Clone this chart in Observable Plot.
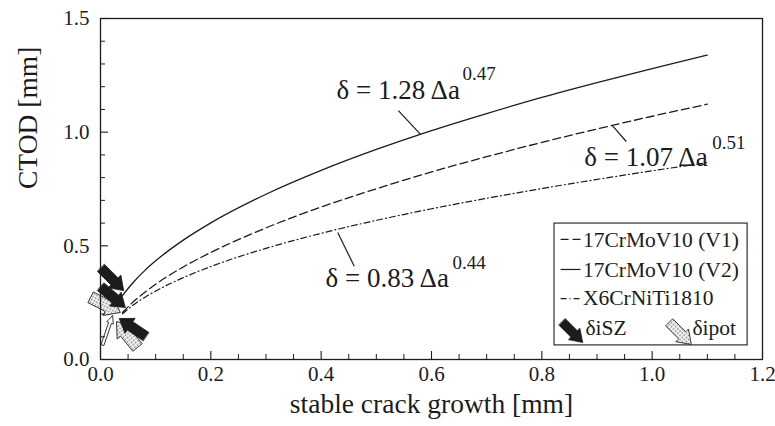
<!DOCTYPE html>
<html><head><meta charset="utf-8">
<script src="https://cdn.jsdelivr.net/npm/d3@7"></script>
<script src="https://cdn.jsdelivr.net/npm/@observablehq/plot@0.6"></script>
<style>body{margin:0;background:#fff} svg, svg text {font-family: "Liberation Serif", serif !important;}</style>
</head><body><div id="chart"></div>
<script>
// ---- data ----
const crackGrowth = [0.04, 0.06, 0.08, 0.1, 0.15, 0.2, 0.3, 0.4, 0.5, 0.6, 0.7, 0.8, 0.9, 1.0, 1.1];
const ctodV1 = [0.207, 0.255, 0.295, 0.331, 0.407, 0.471, 0.579, 0.671, 0.751, 0.825, 0.892, 0.955, 1.014, 1.07, 1.123];
const ctodV2 = [0.282, 0.341, 0.391, 0.434, 0.525, 0.601, 0.727, 0.832, 0.924, 1.007, 1.082, 1.153, 1.218, 1.28, 1.339];
const ctodX6 = [0.201, 0.241, 0.273, 0.301, 0.360, 0.409, 0.489, 0.555, 0.612, 0.663, 0.709, 0.752, 0.792, 0.83, 0.866];
const seriesNames = ["17CrMoV10 (V1)", "17CrMoV10 (V2)", "X6CrNiTi1810"];
const xTickLabels = [0, 0.2, 0.4, 0.6, 0.8, 1.0, 1.2];
const yTickLabels = [0, 0.5, 1.0, 1.5];
const xTitle = "stable crack growth [mm]";
const yTitle = "CTOD [mm]";
// initiation values marked by arrows (tip x, tip y, direction in degrees)
const iszX = [0.042, 0.045, 0.034];
const iszY = [0.303, 0.229, 0.180];
const iszDir = [135, 130, 304];
const ipotX = [0.036, 0.029];
const ipotY = [0.207, 0.167];
const ipotDir = [117, 321];
const thinX = [0.022];
const thinY = [0.194];
const thinDir = [19];
// fit equations
const fitText = ["δ = 1.28 Δa", "δ = 1.07 Δa", "δ = 0.83 Δa"];
const fitExp = ["0.47", "0.51", "0.44"];

// ---- tables ----
const rows = (ys, s) => crackGrowth.map((x, i) => ({x, y: ys[i], s}));
const v1 = rows(ctodV1, seriesNames[0]);
const v2 = rows(ctodV2, seriesNames[1]);
const x6 = rows(ctodX6, seriesNames[2]);
const isz = iszX.map((x, i) => ({x, y: iszY[i], r: iszDir[i]}));
const ipot = ipotX.map((x, i) => ({x, y: ipotY[i], r: ipotDir[i]}));
const thin = thinX.map((x, i) => ({x, y: thinY[i], r: thinDir[i]}));

// annotation layout (data coordinates)
const fitPos = [
  {x: 0.428, y: 1.148, ex: 0.656, ey: 1.231, lx1: 0.540, ly1: 1.095, lx2: 0.580, ly2: 0.990},
  {x: 0.877, y: 0.853, ex: 1.109, ey: 0.928, lx1: 0.928, ly1: 1.029, lx2: 0.953, ly2: 0.959},
  {x: 0.408, y: 0.317, ex: 0.638, ey: 0.400, lx1: 0.430, ly1: 0.559, lx2: 0.460, ly2: 0.410}
];
const fits = fitPos.map((p, i) => ({...p, t: fitText[i], e: fitExp[i]}));

// legend layout (data coordinates)
const legBox = [{x1: 0.823, x2: 1.173, y1: 0.062, y2: 0.598}];
const legRowY = [0.497, 0.365, 0.238];
const legLineY = [0.528, 0.396, 0.268];
const dashes = ["8,4", null, "6,3,1,3"];
const legLines = seriesNames.map((s, i) => ({s, x1: 0.834, x2: 0.870, y: legLineY[i], d: dashes[i]}));
const legTexts = seriesNames.map((s, i) => ({s, x: 0.8745, y: legRowY[i]}));

function blockArrow(shaftW, headW, headL) {
  return {draw(ctx, l) {
    const hs = shaftW / 2, hh = headW / 2;
    ctx.moveTo(-hs, 0);
    ctx.lineTo(-hs, -l + headL);
    ctx.lineTo(-hh, -l + headL);
    ctx.lineTo(0, -l);
    ctx.lineTo(hh, -l + headL);
    ctx.lineTo(hs, -l + headL);
    ctx.lineTo(hs, 0);
    ctx.closePath();
  }};
}

const FONT = "'Liberation Serif', serif";
const ink = "#1c1c1c";
const W = 775, H = 426, mL = 100, mR = 13, mT = 18, mB = 67;
const fw = W - mL - mR, fh = H - mT - mB;
const majorX = xTickLabels, minorX = d3.range(0, 1.2001, 0.05).filter(v => Math.abs(v * 5 - Math.round(v * 5)) > 1e-6);
const majorY = yTickLabels, minorY = d3.range(0, 1.5001, 0.1).filter(v => Math.abs(v * 2 - Math.round(v * 2)) > 1e-6);

const chart = Plot.plot({
  width: W, height: H,
  marginLeft: mL, marginRight: mR, marginTop: mT, marginBottom: mB,
  style: {fontFamily: FONT, color: ink, background: "#fff"},
  x: {domain: [0, 1.2], label: null},
  y: {domain: [0, 1.5], label: null},
  marks: [
    // curves
    Plot.line(v2, {x: "x", y: "y", curve: "monotone-x", stroke: ink, strokeWidth: 1.3}),
    Plot.line(v1, {x: "x", y: "y", curve: "monotone-x", stroke: ink, strokeWidth: 1.3, strokeDasharray: "8,4"}),
    Plot.line(x6, {x: "x", y: "y", curve: "monotone-x", stroke: ink, strokeWidth: 1.2, strokeDasharray: "6,3,1,3"}),
    // arrows
    Plot.vector(thin, {x: "x", y: "y", rotate: "r", length: 31, anchor: "end", shape: blockArrow(3, 7, 8), fill: "#fff", stroke: ink, strokeWidth: 0.8}),
    Plot.vector(ipot, {x: "x", y: "y", rotate: "r", length: 33, anchor: "end", shape: blockArrow(12, 21, 14), fill: "url(#stipple)", stroke: ink, strokeWidth: 0.8}),
    Plot.vector(isz, {x: "x", y: "y", rotate: "r", length: 32, anchor: "end", shape: blockArrow(10, 18, 13), fill: ink, stroke: ink, strokeWidth: 0.8}),
    // fit annotations
    Plot.link(fits, {x1: "lx1", y1: "ly1", x2: "lx2", y2: "ly2", stroke: ink, strokeWidth: 1.2}),
    Plot.text(fits, {x: "x", y: "y", text: "t", textAnchor: "start", lineAnchor: "bottom", fontSize: 27, fontFamily: FONT, fill: ink}),
    Plot.text(fits, {x: "ex", y: "ey", text: "e", textAnchor: "start", lineAnchor: "bottom", fontSize: 19, fontFamily: FONT, fill: ink}),
    // legend
    Plot.rect(legBox, {x1: "x1", x2: "x2", y1: "y1", y2: "y2", fill: "#fff", stroke: ink, strokeWidth: 1.1}),
    ...legLines.map(d => Plot.link([d], {x1: "x1", x2: "x2", y1: "y", y2: "y", stroke: ink, strokeWidth: 1.2, strokeDasharray: d.d})),
    Plot.text(legTexts, {x: "x", y: "y", text: "s", textAnchor: "start", lineAnchor: "bottom", fontSize: 21.5, fontFamily: FONT, fill: ink}),
    Plot.vector([{x: 0.874, y: 0.075}], {x: "x", y: "y", rotate: 135, length: 29, anchor: "end", shape: blockArrow(9, 16, 12), fill: ink, stroke: ink, strokeWidth: 0.8}),
    Plot.vector([{x: 1.071, y: 0.066}], {x: "x", y: "y", rotate: 135, length: 31, anchor: "end", shape: blockArrow(10, 18, 13), fill: "url(#stipple)", stroke: ink, strokeWidth: 0.8}),
    Plot.text([{x: 0.879, y: 0.1056, t: "δiSZ"}, {x: 1.073, y: 0.1056, t: "δipot"}], {x: "x", y: "y", text: "t", textAnchor: "start", lineAnchor: "bottom", fontSize: 21.5, fontFamily: FONT, fill: ink}),
    // frame and inward ticks
    Plot.frame({stroke: ink, strokeWidth: 1.3}),
    Plot.tickX(majorX, {x: d => d, insetTop: fh - 8, stroke: ink, strokeWidth: 1.1}),
    Plot.tickX(minorX, {x: d => d, insetTop: fh - 5, stroke: ink, strokeWidth: 1}),
    Plot.tickY(majorY, {y: d => d, insetRight: fw - 8, stroke: ink, strokeWidth: 1.1}),
    Plot.tickY(minorY, {y: d => d, insetRight: fw - 5, stroke: ink, strokeWidth: 1}),
    // axes labels
    Plot.axisX(majorX, {tickSize: 0, tickPadding: 7, tickFormat: d3.format(".1f"), fontSize: 21, fontFamily: FONT, label: null}),
    Plot.axisY(majorY, {tickSize: 0, tickPadding: 11, tickFormat: d3.format(".1f"), fontSize: 21, fontFamily: FONT, label: null}),
    Plot.text([xTitle], {frameAnchor: "bottom", dy: 53, lineAnchor: "bottom", fontSize: 27.5, fontFamily: FONT, fill: ink}),
    Plot.text([yTitle], {frameAnchor: "left", dx: -64, rotate: -90, lineAnchor: "bottom", fontSize: 27.5, fontFamily: FONT, fill: ink})
  ]
});

const svg = d3.select(chart);
svg.style("font-family", FONT);
const defs = svg.insert("defs", ":first-child");
const pat = defs.append("pattern").attr("id", "stipple").attr("width", 3).attr("height", 3).attr("patternUnits", "userSpaceOnUse");
pat.append("rect").attr("width", 3).attr("height", 3).attr("fill", "#f0f0f0");
pat.append("circle").attr("cx", 1.5).attr("cy", 1.5).attr("r", 0.75).attr("fill", "#6a6a6a");
document.getElementById("chart").appendChild(chart);
</script>
</body></html>
